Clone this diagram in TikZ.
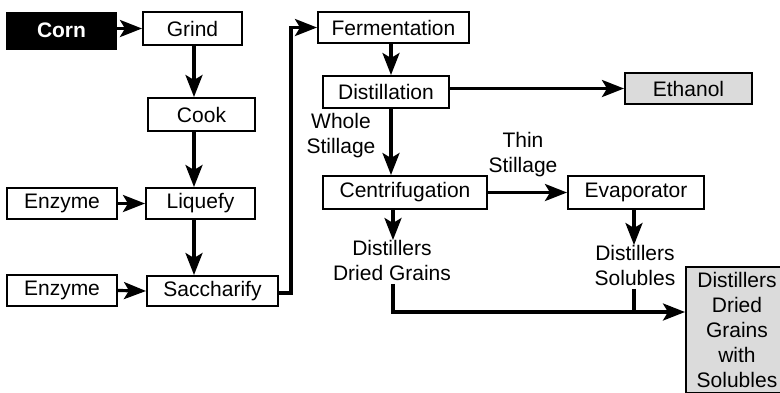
\documentclass[tikz,border=0pt]{standalone}
\usepackage{fontspec}
\setmainfont{Liberation Sans}
\usetikzlibrary{arrows.meta}
\begin{document}
\begin{tikzpicture}[x=1pt,y=-1pt,
  every node/.style={font=\fontsize{21}{25}\selectfont},
  box/.style={draw, line width=2pt, inner sep=0pt, align=center},
  grey/.style={box, fill=black!14},
  lbl/.style={align=center, inner sep=0pt},
  flow/.style={line width=3.2pt, -{Stealth[length=22pt,width=17pt,inset=5pt]}},
  plain/.style={line width=3.2pt}]
\clip (0,0) rectangle (780,392);
\fill[white] (0,0) rectangle (780,392);

% process boxes
\node[box, fill=black, text=white, font=\fontsize{21}{25}\selectfont\bfseries,
      minimum width=109pt, minimum height=36pt] (corn) at (61.5,30.5) {Corn};
\node[box, minimum width=99pt,  minimum height=33pt] (grind)   at (192.5,28.5) {Grind};
\node[box, minimum width=107pt, minimum height=33pt] (cook)    at (201.5,114.5) {Cook};
\node[box, minimum width=109pt, minimum height=31pt] (liquefy) at (200.5,203.5) {Liquefy};
\node[box, minimum width=110pt, minimum height=31pt] (enz1)    at (62,203.5) {Enzyme};
\node[box, minimum width=131pt, minimum height=30pt] (sacch)   at (212.5,291) {Saccharify};
\node[box, minimum width=110pt, minimum height=31pt] (enz2)    at (62,290.5) {Enzyme};
\node[box, minimum width=151pt, minimum height=31pt] (ferm)    at (393.5,27.5) {Fermentation};
\node[box, minimum width=126pt, minimum height=32pt] (dist)    at (386,92) {Distillation};
\node[grey, minimum width=127pt, minimum height=31pt] (ethanol) at (688.5,88.5) {Ethanol};
\node[box, minimum width=164pt, minimum height=33pt] (centri)  at (405,192.5) {Centrifugation};
\node[box, minimum width=136pt, minimum height=33pt] (evap)    at (636,192.5) {Evaporator};
\node[grey, minimum width=102pt, minimum height=126pt] (ddgs)  at (737,330)
      {Distillers\\Dried\\Grains\\with\\Solubles};

% stream labels
\node[lbl] (whole) at (341,136) {Whole\\Stillage};
\node[lbl] (thin)  at (523,155) {Thin\\Stillage};
\node[lbl, anchor=north] (ddg) at (392,240) {Distillers\\Dried Grains};
\node[lbl, anchor=north] (ds)  at (635,245) {Distillers\\Solubles};

% column positions of the vertical streams
\coordinate (c1) at (194,0);
\coordinate (c2) at (391,0);
\coordinate (c3) at (393,0);
\coordinate (c4) at (634,0);
\coordinate (riser) at (291,0);
\coordinate (merge) at (0,312);

% connectors
\draw[flow] (corn.east |- grind.west) -- (grind.west);
\draw[flow] (grind.south -| c1) -- (cook.north -| c1);
\draw[flow] (cook.south -| c1) -- (liquefy.north -| c1);
\draw[flow] (liquefy.south -| c1) -- (sacch.north -| c1);
\draw[flow] (enz1.east) -- (liquefy.west);
\draw[flow] (enz2.east) -- (sacch.west);
\draw[flow] ([yshift=-2pt]sacch.east) -| (riser |- ferm.west) -- (ferm.west);
\draw[flow] (ferm.south -| c2) -- (dist.north -| c2);
\draw[flow] (dist.east |- ethanol.west) -- (ethanol.west);
\draw[flow] (dist.south -| c2) -- (centri.north -| c2);
\draw[flow] (centri.east) -- (evap.west);
\draw[flow] (centri.south -| c3) -- (ddg.north -| c3);
\draw[flow] (evap.south -| c4) -- (ds.north -| c4);
\draw[flow] ([yshift=-3pt]ddg.south -| c3) |- (merge -| ddgs.west);
\draw[plain] ([yshift=-3pt]ds.south -| c4) -- (merge -| c4);
\end{tikzpicture}
\end{document}
